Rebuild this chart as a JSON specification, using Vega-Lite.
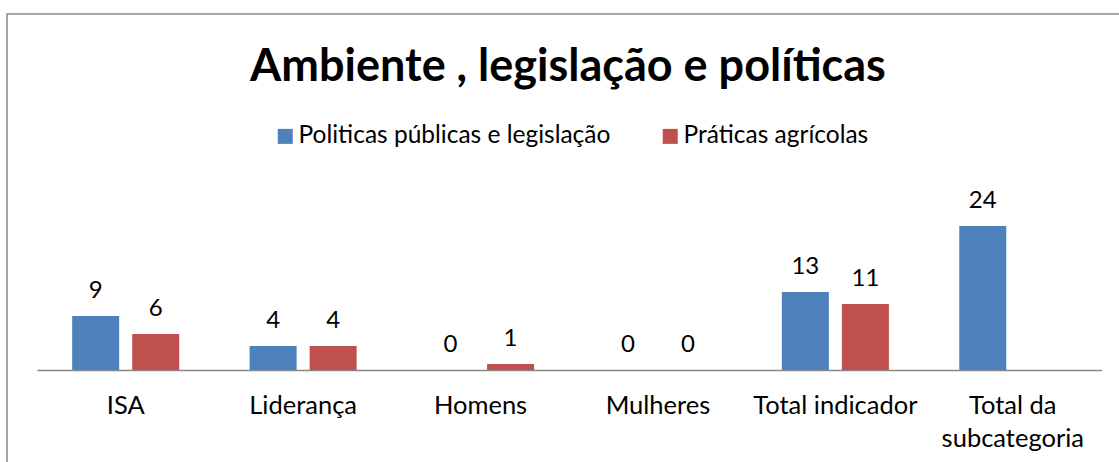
{
  "$schema": "https://vega.github.io/schema/vega-lite/v6.json",
  "width": 1122,
  "height": 500,
  "autosize": {"type": "none"},
  "padding": {"left": 7, "top": 14, "right": 0, "bottom": 0},
  "background": "white",
  "config": {
    "view": {"stroke": "#898989", "strokeWidth": 1.5},
    "font": "Lato",
    "text": {"font": "Lato"}
  },
  "title": {
    "text": "Ambiente , legislação e políticas",
    "font": "Lato",
    "fontWeight": "bold",
    "fontSize": 45,
    "color": "black",
    "anchor": "middle",
    "frame": "group",
    "offset": 0,
    "baseline": "alphabetic",
    "dy": 112
  },
  "data": {
    "values": [
      {"cat": "ISA", "serie": "Politicas públicas e legislação", "v": 9},
      {"cat": "ISA", "serie": "Práticas agrícolas", "v": 6},
      {"cat": "Liderança", "serie": "Politicas públicas e legislação", "v": 4},
      {"cat": "Liderança", "serie": "Práticas agrícolas", "v": 4},
      {"cat": "Homens", "serie": "Politicas públicas e legislação", "v": 0},
      {"cat": "Homens", "serie": "Práticas agrícolas", "v": 1},
      {"cat": "Mulheres", "serie": "Politicas públicas e legislação", "v": 0},
      {"cat": "Mulheres", "serie": "Práticas agrícolas", "v": 0},
      {"cat": "Total indicador", "serie": "Politicas públicas e legislação", "v": 13},
      {"cat": "Total indicador", "serie": "Práticas agrícolas", "v": 11},
      {"cat": "Total da subcategoria", "serie": "Politicas públicas e legislação", "v": 24}
    ]
  },
  "encoding": {
    "x": {
      "field": "cat",
      "type": "nominal",
      "sort": ["ISA", "Liderança", "Homens", "Mulheres", "Total indicador", "Total da subcategoria"],
      "scale": {"range": [30, 1094.5], "paddingInner": 0, "paddingOuter": 0},
      "axis": {
        "title": null,
        "orient": "bottom",
        "offset": -144,
        "domainColor": "#898989",
        "domainWidth": 1.5,
        "ticks": false,
        "tickSize": 0,
        "labelPadding": 43,
        "labelBaseline": "alphabetic",
        "labelAngle": 0,
        "labelFont": "Lato",
        "labelFontSize": 25.5,
        "labelColor": "black",
        "labelLineHeight": 33,
        "labelLimit": 0,
        "labelExpr": "datum.label == 'Total da subcategoria' ? ['Total da', 'subcategoria'] : datum.label"
      }
    },
    "xOffset": {
      "field": "serie",
      "type": "nominal",
      "sort": ["Politicas públicas e legislação", "Práticas agrícolas"],
      "scale": {"domain": ["Politicas públicas e legislação", "Práticas agrícolas"], "paddingInner": 0.217, "paddingOuter": 0.586}
    },
    "y": {
      "field": "v",
      "type": "quantitative",
      "scale": {"domain": [0, 30], "range": [356, 176], "nice": false, "zero": true},
      "axis": null
    }
  },
  "layer": [
    {
      "mark": {"type": "bar"},
      "encoding": {
        "color": {
          "field": "serie",
          "type": "nominal",
          "scale": {"domain": ["Politicas públicas e legislação", "Práticas agrícolas"], "range": ["#4F81BD", "#C0504D"]},
          "legend": {
            "title": null,
            "orient": "none",
            "legendX": 266,
            "legendY": 110,
            "direction": "horizontal",
            "symbolType": "square",
            "symbolSize": 225,
            "symbolStrokeWidth": 0,
            "labelFont": "Lato",
            "labelFontSize": 24.5,
            "labelColor": "black",
            "labelOffset": 1,
            "columnPadding": 47,
            "labelLimit": 0
          }
        }
      }
    },
    {
      "mark": {"type": "text", "baseline": "alphabetic", "dy": -18, "fontSize": 24, "font": "Lato", "color": "black"},
      "encoding": {
        "text": {"field": "v", "type": "quantitative"}
      }
    }
  ]
}
